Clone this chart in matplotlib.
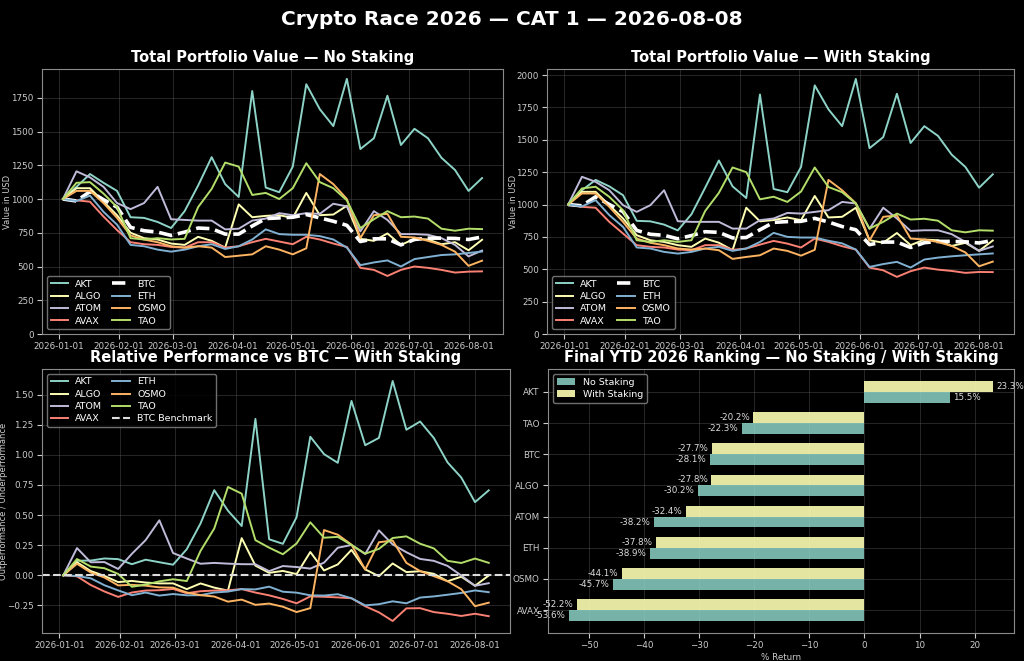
import numpy as np
import pandas as pd
import matplotlib
matplotlib.use("Agg")
import matplotlib.pyplot as plt
import matplotlib.dates as mdates

# weekly snapshots, Jan 3 .. Aug 8 2026
dates = pd.date_range("2026-01-03", "2026-08-08", freq="7D")

coins = ["AKT", "ALGO", "ATOM", "AVAX", "BTC", "ETH", "OSMO", "TAO"]
colors = {
    "AKT": "#8dd3c7", "ALGO": "#feffb3", "ATOM": "#bfbbd9", "AVAX": "#fa8174",
    "BTC": "white", "ETH": "#81b1d2", "OSMO": "#fdb462", "TAO": "#b3de69",
}

# portfolio value, no staking
akt_ns = [1000, 1090, 1185, 1120, 1060, 865, 860, 830, 785, 910, 1100, 1310, 1110, 1015, 1800, 1085,
          1050, 1240, 1850, 1665, 1540, 1890, 1370, 1450, 1765, 1400, 1520, 1450, 1305, 1215, 1060, 1155]
algo_ns = [1000, 1080, 1080, 980, 880, 750, 710, 700, 670, 660, 720, 690, 640, 960, 865, 875,
           880, 860, 1045, 880, 885, 950, 705, 690, 745, 660, 705, 700, 665, 680, 620, 698]
atom_ns = [1000, 1205, 1160, 1090, 970, 925, 970, 1090, 850, 845, 840, 840, 775, 780, 840, 855,
           895, 880, 895, 890, 965, 945, 760, 910, 845, 740, 740, 735, 710, 660, 575, 618]
avax_ns = [1000, 990, 980, 870, 770, 680, 665, 660, 645, 640, 680, 680, 640, 650, 680, 705,
           685, 665, 720, 700, 670, 645, 490, 475, 430, 475, 500, 490, 475, 455, 462, 464]
btc_ns = [1000, 985, 1055, 995, 940, 790, 765, 755, 730, 755, 785, 780, 740, 740, 800, 855,
          860, 865, 885, 860, 835, 805, 685, 705, 705, 660, 700, 710, 710, 708, 700, 719]
eth_ns = [1000, 985, 1025, 905, 810, 660, 650, 625, 610, 625, 650, 665, 630, 650, 700, 775,
          740, 735, 735, 725, 700, 640, 510, 530, 545, 500, 555, 570, 585, 590, 600, 611]
osmo_ns = [1000, 1060, 1060, 970, 860, 730, 700, 680, 650, 640, 650, 640, 570, 580, 590, 650,
           625, 590, 635, 1185, 1110, 1000, 710, 880, 890, 720, 715, 690, 660, 610, 505, 543]
tao_ns = [1000, 1120, 1125, 1040, 940, 710, 700, 710, 700, 705, 940, 1075, 1270, 1240, 1030, 1045,
          1000, 1080, 1265, 1125, 1080, 990, 785, 850, 910, 865, 870, 855, 780, 765, 780, 777]

# portfolio value, with staking
akt_ws = [1000, 1110, 1190, 1140, 1072, 874, 870, 845, 800, 925, 1130, 1340, 1140, 1050, 1850, 1120,
          1095, 1290, 1920, 1735, 1605, 1970, 1435, 1520, 1855, 1475, 1605, 1530, 1385, 1290, 1130, 1233]
algo_ws = [1000, 1098, 1098, 995, 892, 763, 724, 711, 686, 673, 737, 705, 648, 975, 870, 880,
           900, 879, 1066, 900, 905, 975, 724, 705, 780, 686, 729, 724, 680, 704, 642, 722]
atom_ws = [1000, 1214, 1175, 1110, 995, 943, 995, 1110, 871, 866, 866, 866, 814, 814, 879, 892,
           935, 930, 943, 956, 1020, 1008, 812, 975, 892, 796, 801, 801, 771, 711, 642, 676]
avax_ws = [1000, 982, 975, 866, 776, 686, 673, 668, 652, 647, 686, 686, 650, 660, 690, 719,
           698, 668, 737, 711, 678, 652, 513, 492, 441, 485, 513, 497, 487, 472, 479, 478]
btc_ws = [1000, 990, 1060, 1000, 945, 800, 770, 762, 735, 760, 790, 785, 742, 745, 805, 862,
          868, 870, 893, 865, 830, 805, 690, 710, 710, 668, 705, 715, 715, 712, 703, 723]
eth_ws = [1000, 985, 1034, 918, 827, 668, 660, 634, 621, 634, 660, 673, 642, 660, 711, 781,
          750, 745, 745, 720, 700, 652, 518, 540, 557, 513, 575, 590, 600, 608, 615, 622]
osmo_ws = [1000, 1085, 1085, 982, 866, 737, 704, 686, 660, 652, 660, 647, 580, 595, 608, 660,
           642, 605, 650, 1190, 1110, 1010, 723, 905, 915, 737, 730, 710, 680, 630, 523, 559]
tao_ws = [1000, 1124, 1137, 1059, 956, 724, 711, 724, 711, 724, 950, 1090, 1286, 1250, 1040, 1060,
          1020, 1100, 1286, 1135, 1095, 1008, 814, 866, 930, 884, 890, 875, 801, 785, 801, 798]

no_staking = {"AKT": akt_ns, "ALGO": algo_ns, "ATOM": atom_ns, "AVAX": avax_ns,
              "BTC": btc_ns, "ETH": eth_ns, "OSMO": osmo_ns, "TAO": tao_ns}
with_staking = {"AKT": akt_ws, "ALGO": algo_ws, "ATOM": atom_ws, "AVAX": avax_ws,
                "BTC": btc_ws, "ETH": eth_ws, "OSMO": osmo_ws, "TAO": tao_ws}

# final YTD ranking (%)
rank_coins = ["AKT", "TAO", "BTC", "ALGO", "ATOM", "ETH", "OSMO", "AVAX"]
ret_no_staking = [15.5, -22.3, -28.1, -30.2, -38.2, -38.9, -45.7, -53.6]
ret_with_staking = [23.3, -20.2, -27.7, -27.8, -32.4, -37.8, -44.1, -52.2]

plt.style.use("dark_background")
plt.rcParams.update({
    "font.family": ["DejaVu Sans"],
    "axes.edgecolor": "#8a8a8a",
    "axes.linewidth": 0.8,
    "xtick.labelsize": 6.3,
    "ytick.labelsize": 6.3,
    "xtick.color": "#cccccc",
    "ytick.color": "#cccccc",
    "xtick.major.pad": 2.5,
    "ytick.major.pad": 2.5,
})

fig, axes = plt.subplots(2, 2, figsize=(10.24, 6.61), dpi=100)
W, H = 1024, 661


def place(ax, l, t, r, b):
    ax.set_position([l / W, 1 - b / H, (r - l) / W, (b - t) / H])


place(axes[0, 0], 42, 69, 503, 334)
place(axes[0, 1], 547, 69, 1014, 334)
place(axes[1, 0], 42, 369, 510, 633)
place(axes[1, 1], 548, 369, 1014, 633)

legend_kw = dict(ncol=2, fontsize=6.8, framealpha=0.8, edgecolor="#8a8a8a", facecolor="black",
                 handlelength=1.9, labelspacing=0.35, columnspacing=1.1, handletextpad=0.7)


def style_dates(ax):
    ax.xaxis.set_major_locator(mdates.MonthLocator())
    ax.xaxis.set_major_formatter(mdates.DateFormatter("%Y-%m-%d"))
    ax.grid(True, color="#5a5a5a", alpha=0.5, linewidth=0.6)


def value_panel(ax, data, title, label_x):
    for c in coins:
        if c == "BTC":
            ax.plot(dates, data[c], color="white", linestyle="--", linewidth=2.6, label=c)
        else:
            ax.plot(dates, data[c], color=colors[c], linewidth=1.4, label=c)
    ax.set_ylim(bottom=0)
    ax.set_title(title, fontsize=10.5, fontweight="bold", pad=5)
    ax.set_ylabel("Value in USD", fontsize=6, color="#cccccc")
    ax.yaxis.set_label_coords(label_x, 0.5)
    style_dates(ax)
    ax.legend(loc="lower left", **legend_kw)


value_panel(axes[0, 0], no_staking, "Total Portfolio Value — No Staking", -0.066)
value_panel(axes[0, 1], with_staking, "Total Portfolio Value — With Staking", -0.063)

# relative performance vs BTC (with staking)
ax = axes[1, 0]
btc = np.array(btc_ws, dtype=float)
for c in coins:
    if c == "BTC":
        continue
    rel = np.array(with_staking[c], dtype=float) / btc - 1
    ax.plot(dates, rel, color=colors[c], linewidth=1.4, label=c)
ax.axhline(0, color="#dddddd", linestyle="--", linewidth=1.5, label="BTC Benchmark")
ax.set_title("Relative Performance vs BTC — With Staking", fontsize=10.5, fontweight="bold", pad=5)
ax.set_ylabel("Outperformance / Underperformance", fontsize=6, color="#cccccc")
ax.yaxis.set_label_coords(-0.072, 0.5)
style_dates(ax)
ax.legend(loc="upper left", **legend_kw)

# final ranking bars
ax = axes[1, 1]
y = np.arange(len(rank_coins))
h = 0.35
ax.barh(y + h / 2, ret_no_staking, h, color="#8dd3c7", alpha=0.85, label="No Staking")
ax.barh(y - h / 2, ret_with_staking, h, color="#feffb3", alpha=0.9, label="With Staking")
for yi, v in zip(y, ret_no_staking):
    ax.text(v + (0.6 if v >= 0 else -0.6), yi + h / 2, f"{v:.1f}%", fontsize=6.3,
            ha="left" if v >= 0 else "right", va="center", color="#dddddd")
for yi, v in zip(y, ret_with_staking):
    ax.text(v + (0.6 if v >= 0 else -0.6), yi - h / 2, f"{v:.1f}%", fontsize=6.3,
            ha="left" if v >= 0 else "right", va="center", color="#dddddd")
ax.set_yticks(y)
ax.set_yticklabels(rank_coins)
ax.invert_yaxis()
ax.set_xlabel("% Return", fontsize=6.3, color="#cccccc", labelpad=2)
ax.set_title("Final YTD 2026 Ranking — No Staking / With Staking", fontsize=10.5, fontweight="bold", pad=5)
ax.grid(True, color="#5a5a5a", alpha=0.5, linewidth=0.6)
ax.set_axisbelow(True)
ax.legend(loc="upper left", fontsize=6.8, framealpha=0.8, edgecolor="#8a8a8a", facecolor="black",
          labelspacing=0.35, handlelength=2.0)

fig.suptitle("Crypto Race 2026 — CAT 1 — 2026-08-08", fontsize=14.5, fontweight="bold", y=0.985)

fig.savefig("out.png", dpi=100, facecolor="black")
